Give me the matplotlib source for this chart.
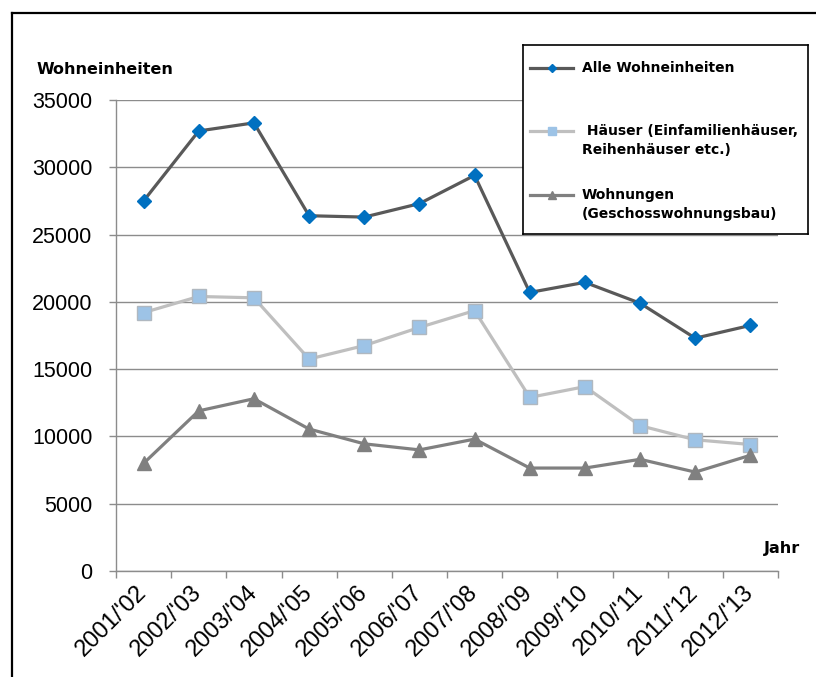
import numpy as np
import matplotlib
matplotlib.use("Agg")
import matplotlib.pyplot as plt
from matplotlib.lines import Line2D

# data
jahre = ["2001/'02", "2002/'03", "2003/'04", "2004/'05", "2005/'06", "2006/'07",
         "2007/'08", "2008/'09", "2009/'10", "2010/'11", "2011/'12", "2012/'13"]
alle_wohneinheiten = [27500, 32700, 33300, 26400, 26300, 27300,
                      29400, 20700, 21450, 19900, 17300, 18250]
haeuser = [19200, 20400, 20300, 15750, 16750, 18100,
           19350, 12900, 13700, 10800, 9750, 9400]
wohnungen = [8000, 11900, 12800, 10550, 9450, 9000,
             9800, 7650, 7650, 8300, 7350, 8600]
y_ticks = [0, 5000, 10000, 15000, 20000, 25000, 30000, 35000]

# colours
DARK = "#595959"
LIGHT = "#BFBFBF"
MID = "#808080"
BLUE = "#0070C0"
LIGHTBLUE = "#9DC3E6"
GRID = "#8C8C8C"

W, H = 816, 677
fig = plt.figure(figsize=(W / 100, H / 100), dpi=100, facecolor="white")

# plot area in pixels: x 116..778, y 100..571
ax = fig.add_axes([116 / W, 1 - 571 / H, (778 - 116) / W, (571 - 100) / H])

x = np.arange(len(jahre))

ax.plot(x, alle_wohneinheiten, color=DARK, lw=2.3, marker="D", ms=7.5,
        mfc=BLUE, mec=BLUE, zorder=4)
ax.plot(x, haeuser, color=LIGHT, lw=2.3, marker="s", ms=10,
        mfc=LIGHTBLUE, mec="#B0B8C0", mew=1, zorder=3)
ax.plot(x, wohnungen, color=MID, lw=2.3, marker="^", ms=9.5,
        mfc=MID, mec=MID, zorder=3)

ax.set_xlim(-0.5, len(jahre) - 0.5)
ax.set_ylim(0, 35000)

ax.set_yticks(y_ticks)
ax.set_yticklabels([str(v) for v in y_ticks], fontsize=15.5,
                   fontfamily="Liberation Sans")
ax.tick_params(axis="y", length=5, width=1, color=GRID, pad=12)

# category boundaries carry the tick marks, centres carry the labels
ax.set_xticks(np.arange(-0.5, len(jahre)))
ax.set_xticklabels([])
ax.tick_params(axis="x", which="major", length=5, width=1, color=GRID)
ax.set_xticks(x, minor=True)
ax.set_xticklabels(jahre, minor=True, rotation=45, ha="right", va="center",
                   rotation_mode="anchor", fontsize=17,
                   fontfamily="Liberation Sans")
ax.tick_params(axis="x", which="minor", length=0, pad=13)

ax.yaxis.grid(True, color=GRID, lw=1)
ax.set_axisbelow(True)
for side in ["top", "right"]:
    ax.spines[side].set_visible(False)
for side in ["left", "bottom"]:
    ax.spines[side].set_color(GRID)
    ax.spines[side].set_linewidth(1)

fig.text(37 / W, 1 - 69 / H, "Wohneinheiten", fontsize=11.5, fontweight="bold",
         fontfamily="DejaVu Sans", va="center", ha="left")
fig.text(800 / W, 1 - 548 / H, "Jahr", fontsize=11.5, fontweight="bold",
         family=["Liberation Sans Narrow", "DejaVu Sans"], va="center", ha="right")

# legend drawn by hand (pixel coordinates inside the box)
lx0, ly0, lx1, ly1 = 523, 45, 808, 234
leg = fig.add_axes([lx0 / W, 1 - ly1 / H, (lx1 - lx0) / W, (ly1 - ly0) / H])
leg.set_xlim(0, lx1 - lx0)
leg.set_ylim(ly1 - ly0, 0)
leg.set_xticks([])
leg.set_yticks([])
for s in leg.spines.values():
    s.set_color("black")
    s.set_linewidth(1.2)

entries = [
    (23, DARK, "D", 4, BLUE, BLUE, ["Alle Wohneinheiten"]),
    (86, LIGHT, "s", 6, LIGHTBLUE, LIGHTBLUE, [" Häuser (Einfamilienhäuser,", "Reihenhäuser etc.)"]),
    (150, MID, "^", 5.5, MID, MID, ["Wohnungen", "(Geschosswohnungsbau)"]),
]
for yy, col, mk, ms, mfc, mec, lines in entries:
    leg.add_line(Line2D([7, 50], [yy, yy], color=col, lw=2.3))
    leg.add_line(Line2D([28.5], [yy], marker=mk, ms=ms, mfc=mfc, mec=mec, ls="none"))
    for i, txt in enumerate(lines):
        leg.text(59, yy + i * 19, txt, fontsize=10, fontweight="bold",
                 fontfamily="DejaVu Sans", va="center", ha="left")

# outer frame (top and left edges visible)
fig.add_artist(Line2D([12 / W, 1], [1 - 13 / H, 1 - 13 / H], color="black", lw=1.6))
fig.add_artist(Line2D([12 / W, 12 / W], [0, 1 - 13 / H], color="black", lw=1.6))

fig.savefig("out.png", dpi=100, facecolor="white")
